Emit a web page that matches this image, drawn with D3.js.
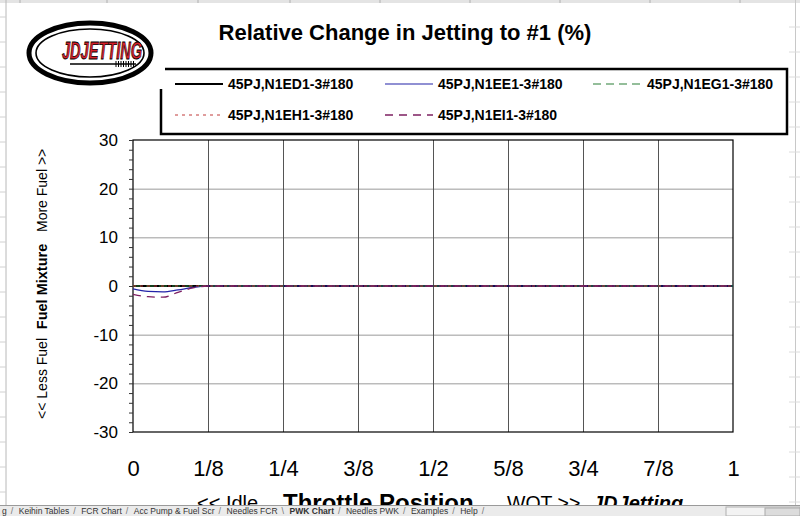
<!DOCTYPE html>
<html>
<head>
<meta charset="utf-8">
<script src="https://cdn.jsdelivr.net/npm/d3@7"></script>
<style>
  body { margin: 0; background: #fff; }
  svg { display: block; font-family: "Liberation Sans", Arial, sans-serif; }
</style>
</head>
<body>
<svg id="chart" width="800" height="516"></svg>
<script>
// Throttle positions (fraction of full throttle)
const throttle = [0, 0.025, 0.05, 0.075, 0.1, 0.125, 0.25, 0.375, 0.5, 0.625, 0.75, 0.875, 1];

// Relative change to #1 (%) per needle
const seriesNames = ["45PJ,N1ED1-3#180", "45PJ,N1EE1-3#180", "45PJ,N1EG1-3#180", "45PJ,N1EH1-3#180", "45PJ,N1EI1-3#180"];
const ed1 = [0, 0, 0, 0, 0, 0, 0, 0, 0, 0, 0, 0, 0];
const ee1 = [-0.6, -1.1, -1.2, -0.8, -0.3, 0, 0, 0, 0, 0, 0, 0, 0];
const eg1 = [0, 0, 0, 0, 0, 0, 0, 0, 0, 0, 0, 0, 0];
const eh1 = [0, 0, 0, 0, 0, 0, 0, 0, 0, 0, 0, 0, 0];
const ei1 = [-1.7, -2.2, -2.3, -1.3, -0.4, 0, 0, 0, 0, 0, 0, 0, 0];

const xTickValues = [0, 0.125, 0.25, 0.375, 0.5, 0.625, 0.75, 0.875, 1];
const xTickLabels = ["0", "1/8", "1/4", "3/8", "1/2", "5/8", "3/4", "7/8", "1"];
const yTickValues = [-30, -20, -10, 0, 10, 20, 30];

const sheetTabs = ["g", "Keihin Tables", "FCR Chart", "Acc Pump & Fuel Scr", "Needles FCR", "PWK Chart", "Needles PWK", "Examples", "Help"];

// styles per series
const seriesStyle = [
    { color: "#000000", width: 2.2, dash: null },
    { color: "#2323a8", width: 1.2, dash: null },
    { color: "#2a7e36", width: 1.2, dash: "8,5" },
    { color: "#c03a3a", width: 1, dash: "3,4" },
    { color: "#7e2062", width: 1.3, dash: "8,6" }
];
const seriesValues = [ed1, ee1, eg1, eh1, ei1];

const svg = d3.select("#chart");
const plot = { left: 133, right: 733, top: 140, bottom: 432 };

const x = d3.scaleLinear().domain([0, 1]).range([plot.left, plot.right]);
const y = d3.scaleLinear().domain([-30, 30]).range([plot.bottom, plot.top]);

// spreadsheet bits around the chart object
const sheet = svg.append("g");
sheet.append("rect").attr("x", 0).attr("y", 0).attr("width", 800).attr("height", 3).attr("fill", "#e4e4e4");
[20, 107, 198, 290, 380, 470, 560, 650, 740].forEach(v => {
    sheet.append("line").attr("x1", v).attr("x2", v).attr("y1", 0).attr("y2", 3).attr("stroke", "#b0b0b0");
});
sheet.append("line").attr("x1", 6).attr("x2", 6).attr("y1", 0).attr("y2", 505).attr("stroke", "#b8b8b8");
sheet.append("line").attr("x1", 795.5).attr("x2", 795.5).attr("y1", 0).attr("y2", 505).attr("stroke", "#c8c8c8");
d3.range(17, 505, 25).forEach(v => {
    sheet.append("line").attr("x1", 0).attr("x2", 6).attr("y1", v).attr("y2", v).attr("stroke", "#d0d0d0");
    sheet.append("line").attr("x1", 789).attr("x2", 800).attr("y1", v + 10).attr("y2", v + 10).attr("stroke", "#dcdcdc");
});

// gridlines
const grid = svg.append("g");
grid.selectAll(".hgrid")
    .data(yTickValues.filter(v => v > -30 && v < 30))
    .enter().append("line")
    .attr("x1", plot.left).attr("x2", plot.right)
    .attr("y1", d => y(d) + 0.5).attr("y2", d => y(d) + 0.5)
    .attr("stroke", "#9a9a9a").attr("stroke-width", 1);
grid.selectAll(".vgrid")
    .data(xTickValues.filter(v => v > 0 && v < 1))
    .enter().append("line")
    .attr("x1", d => x(d) + 0.5).attr("x2", d => x(d) + 0.5)
    .attr("y1", plot.top).attr("y2", plot.bottom)
    .attr("stroke", "#555").attr("stroke-width", 1);

// plot frame
svg.append("rect")
    .attr("x", plot.left).attr("y", plot.top)
    .attr("width", plot.right - plot.left).attr("height", plot.bottom - plot.top)
    .attr("fill", "none").attr("stroke", "#000").attr("stroke-width", 1.2);

// y axis: minor ticks every 2, labels every 10
const yMinor = svg.append("g")
    .attr("transform", `translate(${plot.left},0)`)
    .call(d3.axisLeft(y).tickValues(d3.range(-30, 31, 2)).tickSize(4).tickFormat(""));
yMinor.select(".domain").remove();
yMinor.selectAll("line").attr("stroke", "#333");

const yAxis = svg.append("g")
    .attr("transform", `translate(${plot.left},0)`)
    .call(d3.axisLeft(y).tickValues(yTickValues).tickSize(0).tickPadding(15).tickFormat(d => String(d)));
yAxis.select(".domain").remove();
yAxis.selectAll("text")
    .style("font-family", "Liberation Sans, Arial, sans-serif")
    .style("font-size", "17px").attr("fill", "#000");

// x axis labels
const xAxis = svg.append("g")
    .attr("transform", `translate(0,${plot.bottom})`)
    .call(d3.axisBottom(x).tickValues(xTickValues).tickSize(0).tickPadding(28)
        .tickFormat((d, i) => xTickLabels[i]));
xAxis.select(".domain").remove();
xAxis.selectAll("text")
    .style("font-family", "Liberation Sans, Arial, sans-serif")
    .style("font-size", "22px").attr("fill", "#000");

// series lines
const line = d3.line()
    .x((d, i) => x(throttle[i]))
    .y(d => y(d))
    .curve(d3.curveMonotoneX);

seriesValues.forEach((vals, i) => {
    const st = seriesStyle[i];
    svg.append("path")
        .datum(vals)
        .attr("d", line)
        .attr("fill", "none")
        .attr("stroke", st.color)
        .attr("stroke-width", st.width)
        .attr("stroke-dasharray", st.dash);
});

// title
svg.append("text")
    .attr("x", 405).attr("y", 40)
    .attr("text-anchor", "middle")
    .style("font-size", "22px").style("font-weight", "bold")
    .text("Relative Change in Jetting to #1 (%)");

// legend
const legend = svg.append("g");
legend.append("rect")
    .attr("x", 161).attr("y", 69).attr("width", 626).attr("height", 65)
    .attr("fill", "#fff").attr("stroke", "#000").attr("stroke-width", 2.5);

const legendPos = [
    { lx: 175, tx: 228, ly: 84 },
    { lx: 385, tx: 438, ly: 84 },
    { lx: 593, tx: 647, ly: 84 },
    { lx: 175, tx: 228, ly: 115 },
    { lx: 385, tx: 438, ly: 115 }
];
seriesNames.forEach((name, i) => {
    const p = legendPos[i], st = seriesStyle[i];
    legend.append("line")
        .attr("x1", p.lx).attr("x2", p.lx + 48)
        .attr("y1", p.ly).attr("y2", p.ly)
        .attr("stroke", st.color).attr("stroke-width", st.width)
        .attr("stroke-dasharray", st.dash);
    legend.append("text")
        .attr("x", p.tx).attr("y", p.ly + 5)
        .style("font-size", "14px").style("font-weight", "bold")
        .text(name);
});

// logo (its white box hides the legend's top-left corner)
const logo = svg.append("g");
logo.append("rect").attr("x", 18).attr("y", 12).attr("width", 147).attr("height", 77).attr("fill", "#fff");
logo.append("ellipse").attr("cx", 90).attr("cy", 53).attr("rx", 61).attr("ry", 30)
    .attr("fill", "#fff").attr("stroke", "#000").attr("stroke-width", 5);
logo.append("ellipse").attr("cx", 90).attr("cy", 53).attr("rx", 54).attr("ry", 24)
    .attr("fill", "#fff").attr("stroke", "#000").attr("stroke-width", 1.6);
logo.append("text")
    .attr("x", 62).attr("y", 59)
    .attr("textLength", 80).attr("lengthAdjust", "spacingAndGlyphs")
    .style("font-size", "24px").style("font-weight", "bold").style("font-style", "italic")
    .attr("fill", "#d8202a").attr("stroke", "#000").attr("stroke-width", 0.8)
    .text("JDJETTING");
logo.append("line").attr("x1", 70).attr("x2", 136).attr("y1", 64).attr("y2", 64)
    .attr("stroke", "#000").attr("stroke-width", 1.5);
d3.range(116, 136, 2.5).forEach(v => {
    logo.append("line").attr("x1", v).attr("x2", v).attr("y1", 61).attr("y2", 67)
        .attr("stroke", "#000").attr("stroke-width", 1);
});

// y axis title (rotated)
const yTitle = svg.append("g").attr("transform", "translate(47,0) rotate(-90)");
yTitle.append("text").attr("x", -338).attr("y", 0).attr("text-anchor", "end")
    .style("font-size", "14px").text("<< Less Fuel");
yTitle.append("text").attr("x", -286.5).attr("y", 0).attr("text-anchor", "middle")
    .style("font-size", "14.5px").style("font-weight", "bold").text("Fuel Mixture");
yTitle.append("text").attr("x", -232).attr("y", 0).attr("text-anchor", "start")
    .style("font-size", "14px").text("More Fuel >>");

// x axis title pieces (cut off by the sheet tab strip below)
const xTitle = svg.append("g");
xTitle.append("text").attr("x", 197).attr("y", 510).style("font-size", "20px").text("<< Idle");
xTitle.append("text").attr("x", 283).attr("y", 511).style("font-size", "24px").style("font-weight", "bold").text("Throttle Position");
xTitle.append("text").attr("x", 507).attr("y", 510).style("font-size", "19.5px").text("WOT >>");
xTitle.append("text").attr("x", 592).attr("y", 510).style("font-size", "20px")
    .style("font-weight", "bold").style("font-style", "italic").text("JDJetting");

// sheet tab strip
const tabs = svg.append("g");
tabs.append("rect").attr("x", 0).attr("y", 505).attr("width", 800).attr("height", 11).attr("fill", "#ebebeb");
tabs.append("line").attr("x1", 0).attr("x2", 800).attr("y1", 505.5).attr("y2", 505.5).attr("stroke", "#9a9a9a");
let tx = 2;
sheetTabs.forEach((name, i) => {
    const t = tabs.append("text")
        .attr("x", tx).attr("y", 514)
        .style("font-size", "8.5px")
        .style("font-weight", name === "PWK Chart" ? "bold" : "normal")
        .attr("fill", "#333")
        .text(name);
    const w = t.node().getComputedTextLength();
    tabs.append("text").attr("x", tx + w + 4).attr("y", 514)
        .style("font-size", "9px").attr("fill", "#777")
        .text(name === "Needles FCR" ? "\\" : "/");
    tx += w + 12;
});
tabs.append("rect").attr("x", 726).attr("y", 507).attr("width", 74).attr("height", 9)
    .attr("fill", "#f3f3f3").attr("stroke", "#b0b0b0");
tabs.append("rect").attr("x", 765).attr("y", 508).attr("width", 35).attr("height", 8)
    .attr("fill", "#dcdcdc").attr("stroke", "#aaa");
</script>
</body>
</html>
